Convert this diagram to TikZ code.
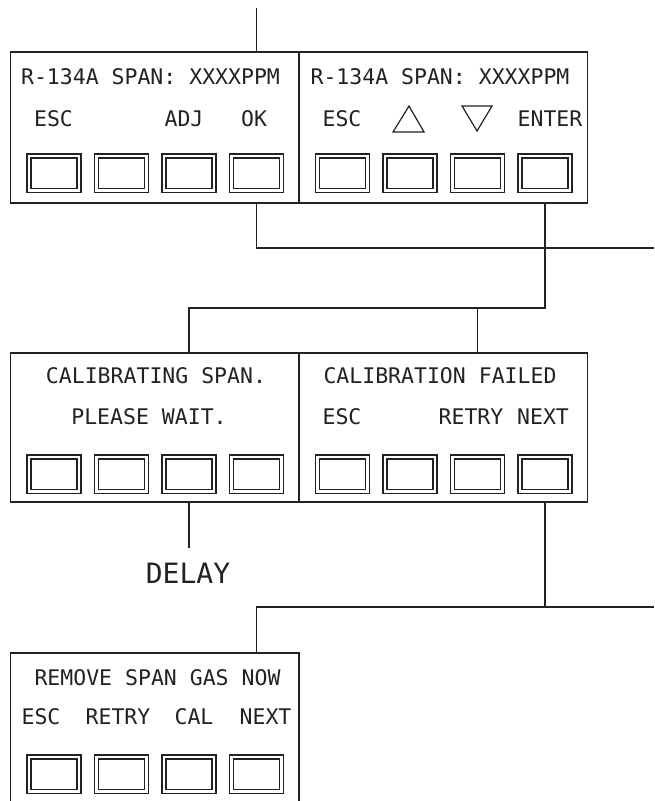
\documentclass[tikz,border=0pt]{standalone}
\usepackage{fontspec}
\newfontfamily\cadfont{DejaVu Sans Mono}
\definecolor{ink}{HTML}{222222}
\begin{document}
\begin{tikzpicture}[x=1pt,y=-1pt,
  panel/.style={draw=ink, line width=1.4pt, inner sep=0pt, outer sep=0pt, anchor=north west, minimum width=288.5pt},
  key/.style={draw=ink, double=white, line width=1.2pt, double distance=2.8pt, inner sep=0pt, minimum width=50pt, minimum height=34.5pt},
  lbl/.style={font=\cadfont\fontsize{21.5}{21.5}\selectfont, text=ink, anchor=base, inner sep=0pt},
  biglbl/.style={font=\cadfont\fontsize{28}{28}\selectfont, text=ink, anchor=base, inner sep=0pt},
  wire/.style={draw=ink, line width=1.4pt},
  tri/.style={draw=ink, line width=1.2pt, line join=miter}]
\clip (0,0) rectangle (654,801);
\fill[white] (0,0) rectangle (654,801);
% panels
\node[panel, minimum height=151pt] (p1) at (10.5,52) {};
\node[panel, minimum height=151pt] (p2) at (299,52) {};
\node[panel, minimum height=149pt] (p3) at (10.5,353) {};
\node[panel, minimum height=149pt] (p4) at (299,353) {};
\node[panel, minimum height=160pt] (p5) at (10.5,653) {};
% keys
\foreach \p/\L/\T in {1/10.5/52, 2/299/52, 3/10.5/353, 4/299/353, 5/10.5/653}
  \foreach \i/\dx in {1/43.5, 2/111, 3/178.5, 4/246}
    \node[key] (b\p\i) at (\L+\dx, \T+121.25) {};
% texts panel 1
\node[lbl] (t1) at (150.5,84.5) {R-134A SPAN: XXXXPPM};
\node[lbl] (t1a) at (53.5,126) {ESC};
\node[lbl] (t1b) at (184,126) {ADJ};
\node[lbl] (t1c) at (254,126) {OK};
% panel 2
\node[lbl] (t2) at (440,84.5) {R-134A SPAN: XXXXPPM};
\node[lbl] (t2a) at (342,126) {ESC};
\node[lbl] (t2d) at (550,126) {ENTER};
\draw[tri] (393,132) -- (409,106) -- (424,132) -- cycle;
\draw[tri] (462,106) -- (492,106) -- (477,131) -- cycle;
% panel 3
\node[lbl] (t3) at (156,383.5) {CALIBRATING SPAN.};
\node[lbl] (t3a) at (149,424.5) {PLEASE WAIT.};
% panel 4
\node[lbl] (t4) at (440,383.5) {CALIBRATION FAILED};
\node[lbl] (t4a) at (342,424.5) {ESC};
\node[lbl] (t4c) at (471,424.5) {RETRY};
\node[lbl] (t4d) at (543,424.5) {NEXT};
% panel 5
\node[lbl] (t5) at (157.5,685.5) {REMOVE SPAN GAS NOW};
\node[lbl] (t5a) at (41,724.5) {ESC};
\node[lbl] (t5b) at (118,724.5) {RETRY};
\node[lbl] (t5c) at (194,724.5) {CAL};
\node[lbl] (t5d) at (265.5,724.5) {NEXT};
% delay
\node[biglbl] (delay) at (188,583) {DELAY};
% connectors
\coordinate (topend) at (0,8);
\coordinate (eastA) at (654,248);
\coordinate (midY) at (0,308);
\coordinate (delaytop) at (0,548);
\coordinate (eastB) at (654,607);
\draw[wire] (b14 |- topend) -- (b14 |- p1.north);
\draw[wire] (b14 |- p1.south) |- (eastA);
\draw[wire] (b24 |- p2.south) -- (b24 |- midY) -| (b33 |- p3.north);
\draw[wire] (b43 |- midY) -- (b43 |- p4.north);
\draw[wire] (b33 |- p3.south) -- (b33 |- delaytop);
\draw[wire] (b44 |- p4.south) |- (eastB);
\draw[wire] (b44 |- eastB) -| (b54 |- p5.north);
\end{tikzpicture}
\end{document}
